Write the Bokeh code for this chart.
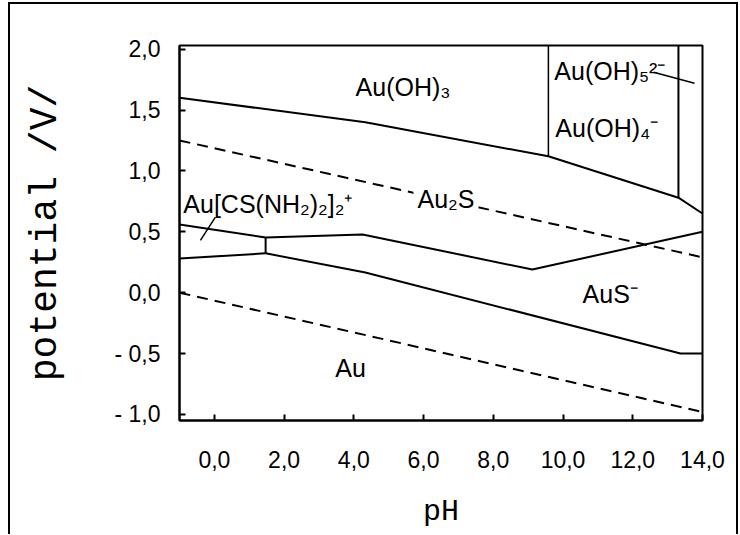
from bokeh.plotting import figure
from bokeh.models import Range1d, FixedTicker, ColumnDataSource
from bokeh.embed import file_html
from bokeh.resources import INLINE
from bokeh.core.properties import value

# ---------------- data (pH, potential / V) ----------------
x_ticks = [0, 2, 4, 6, 8, 10, 12, 14]
x_tick_labels = ["0,0", "2,0", "4,0", "6,0", "8,0", "10,0", "12,0", "14,0"]
y_ticks = [2.0, 1.5, 1.0, 0.5, 0.0, -0.5, -1.0]
y_tick_labels = ["2,0", "1,5", "1,0", "0,5", "0,0", "- 0,5", "- 1,0"]

# Au(OH)3 / Au2S boundary
hydroxide_ph = [-1.0, 4.33, 9.58, 13.31, 14.0]
hydroxide_v = [1.60, 1.40, 1.12, 0.78, 0.65]
# vertical boundaries Au(OH)3 | Au(OH)4- | Au(OH)5 2-
vert1_ph = [9.58, 9.58]
vert1_v = [1.12, 2.10]
vert2_ph = [13.31, 13.31]
vert2_v = [0.78, 2.10]
# oxygen line (dashed)
o2_ph = [-1.0, 14.0]
o2_v = [1.25, 0.29]
# hydrogen line (dashed)
h2_ph = [-1.0, 14.0]
h2_v = [0.00, -0.98]
# thiourea complex upper boundary
cplx_up_ph = [-1.0, 1.47]
cplx_up_v = [0.56, 0.453]
# Au2S lower boundary
au2s_ph = [1.47, 4.25, 9.12, 14.0]
au2s_v = [0.453, 0.478, 0.19, 0.50]
# short vertical
cplx_vert_ph = [1.47, 1.47]
cplx_vert_v = [0.453, 0.323]
# thiourea complex lower boundary
cplx_low_ph = [-1.0, 1.47]
cplx_low_v = [0.28, 0.323]
# Au lower boundary
au_ph = [1.47, 4.33, 13.37, 14.0]
au_v = [0.323, 0.166, -0.50, -0.50]
# pointer lines
ptr1_ph = [12.6, 13.77]
ptr1_v = [1.81, 1.72]
ptr2_ph = [-0.40, 0.03]
ptr2_v = [0.43, 0.62]

# region labels
label_text = ["Au(OH)₃", "Au(OH)₅²⁻", "Au(OH)₄⁻", "Au[CS(NH₂)₂]₂⁺", "AuS⁻", "Au"]
label_ph = [4.05, 9.75, 9.78, -0.89, 10.56, 3.47]
label_v = [1.69, 1.82, 1.35, 0.73, -0.01, -0.62]
au2s_text = ["Au₂S"]
au2s_label_ph = [5.71]
au2s_label_v = [0.77]

# ---------------- figure ----------------
p = figure(frame_width=523, frame_height=375,
           x_range=Range1d(-1.0, 14.0), y_range=Range1d(-1.05, 2.03),
           output_backend="svg", toolbar_location=None,
           min_border_left=169, min_border_right=34,
           min_border_top=41, min_border_bottom=114,
           background_fill_color="white", border_fill_color="white")
p.styles = {"border-top": "2px solid black", "border-left": "2px solid black",
            "border-right": "2px solid black",
            "margin-left": "8px", "margin-top": "2px"}
p.grid.visible = False
p.outline_line_color = "black"
p.outline_line_width = 2

for ax in (p.xaxis[0], p.yaxis[0]):
    ax.axis_line_width = 2
    ax.axis_line_color = "black"
    ax.major_tick_in = 6
    ax.major_tick_out = 0
    ax.major_tick_line_width = 2
    ax.minor_tick_line_color = None
    ax.major_label_text_font = "Liberation Sans"
    ax.major_label_text_font_size = "23px"
    ax.major_label_text_color = "black"
    ax.axis_label_text_font = "Liberation Mono"
    ax.axis_label_text_font_style = "normal"
    ax.axis_label_text_color = "black"

p.xaxis.ticker = FixedTicker(ticks=x_ticks)
p.xaxis.major_label_overrides = {t: l for t, l in zip(x_ticks, x_tick_labels)}
p.xaxis.major_label_standoff = 30
p.xaxis.axis_label = "pH"
p.xaxis.axis_label_text_font_size = "30px"
p.xaxis.axis_label_standoff = 24

p.yaxis.ticker = FixedTicker(ticks=y_ticks)
p.yaxis.major_label_overrides = {t: l for t, l in zip(y_ticks, y_tick_labels)}
p.yaxis.major_label_standoff = 19
p.yaxis.axis_label = "potential /V/"
p.yaxis.axis_label_text_font_size = "38px"
p.yaxis.axis_label_standoff = 44

solid = dict(line_color="black", line_width=2)
dashed = dict(line_color="black", line_width=2, line_dash="11 7")

p.line(hydroxide_ph, hydroxide_v, **solid)
p.line(vert1_ph, vert1_v, line_color="black", line_width=1.5)
p.line(vert2_ph, vert2_v, line_color="black", line_width=2)
p.line(o2_ph, o2_v, **dashed)
p.line(h2_ph, h2_v, **dashed)
p.line(cplx_up_ph, cplx_up_v, **solid)
p.line(au2s_ph, au2s_v, **solid)
p.line(cplx_vert_ph, cplx_vert_v, **solid)
p.line(cplx_low_ph, cplx_low_v, **solid)
p.line(au_ph, au_v, **solid)
p.line(ptr1_ph, ptr1_v, line_color="black", line_width=1.5)
p.line(ptr2_ph, ptr2_v, line_color="black", line_width=1.5)

src = ColumnDataSource(dict(x=label_ph, y=label_v, t=label_text))
p.text(x="x", y="y", text="t", source=src, text_font=value("Liberation Sans"),
       text_font_size="25px", text_align="left", text_baseline="middle",
       text_color="black")
src2 = ColumnDataSource(dict(x=au2s_label_ph, y=au2s_label_v, t=au2s_text))
p.text(x="x", y="y", text="t", source=src2, text_font=value("Liberation Sans"),
       text_font_size="25px", text_align="left", text_baseline="middle",
       text_color="black", background_fill_color="white", padding=4)

open("out.html", "w").write(file_html(p, INLINE))
